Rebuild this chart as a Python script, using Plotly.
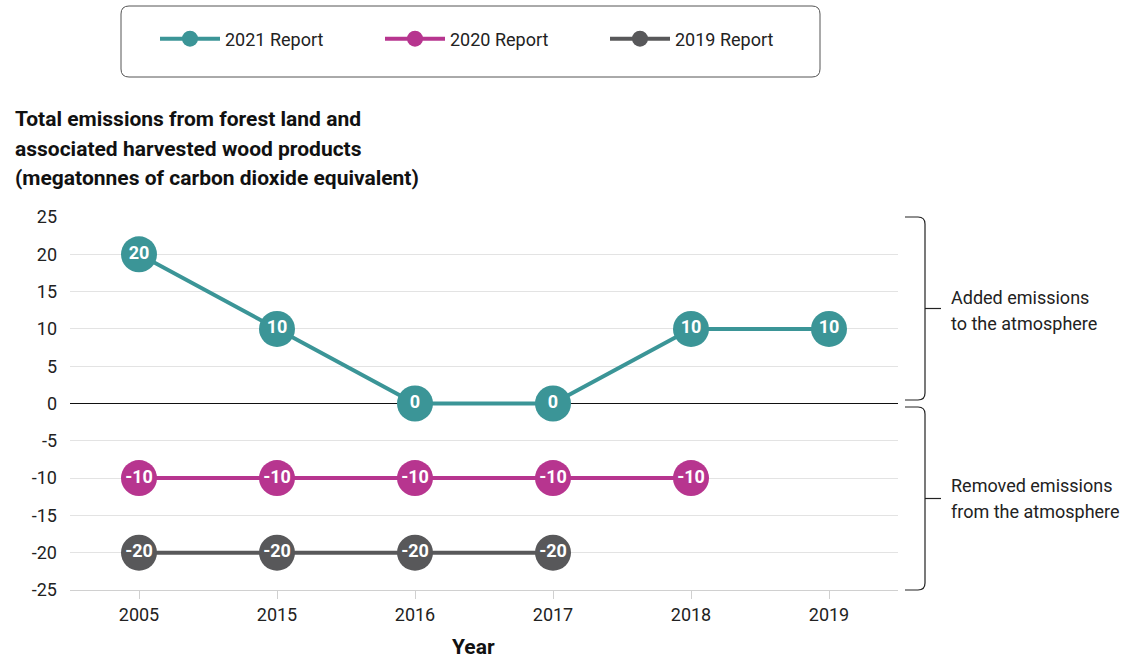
import plotly.graph_objects as go

years = ["2005", "2015", "2016", "2017", "2018", "2019"]
report_2021 = [20, 10, 0, 0, 10, 10]
report_2020 = [-10, -10, -10, -10, -10]
report_2019 = [-20, -20, -20, -20]
series_names = ["2021 Report", "2020 Report", "2019 Report"]
y_ticks = [-25, -20, -15, -10, -5, 0, 5, 10, 15, 20, 25]
y_tick_labels = [str(v) for v in y_ticks]
title_lines = ["Total emissions from forest land and",
               "associated harvested wood products",
               "(megatonnes of carbon dioxide equivalent)"]
added_lines = ["Added emissions", "to the atmosphere"]
removed_lines = ["Removed emissions", "from the atmosphere"]
x_title = "Year"

colors = ["#3b9597", "#b7358f", "#58585a"]
FONT = "Roboto"

W, H = 1129, 658
L, R, T, B = 70, 898, 217, 590


def px(x):
    return (x - L) / (R - L)


def py(y):
    return (B - y) / (B - T)


fig = go.Figure()
for name, vals, col in zip(series_names, [report_2021, report_2020, report_2019], colors):
    xs = years[:len(vals)]
    fig.add_trace(go.Scatter(
        x=xs, y=vals, name=name, mode="lines+markers",
        line=dict(color=col, width=4),
        marker=dict(color=col, size=36),
        cliponaxis=False,
    ))
for vals in [report_2021, report_2020, report_2019]:
    xs = years[:len(vals)]
    fig.add_trace(go.Scatter(
        x=xs, y=vals, mode="text", text=[str(v) for v in vals],
        textposition="middle center", showlegend=False, hoverinfo="skip",
        textfont=dict(family=FONT, size=18, color="white", weight="bold"),
        cliponaxis=False,
    ))

shapes = []
# legend box (rounded)
x0, x1, y0, y1 = 121, 820, 6, 77
r = 8
path = (f"M {px(x0 + r)} {py(y0)} L {px(x1 - r)} {py(y0)} Q {px(x1)} {py(y0)} {px(x1)} {py(y0 + r)} "
        f"L {px(x1)} {py(y1 - r)} Q {px(x1)} {py(y1)} {px(x1 - r)} {py(y1)} "
        f"L {px(x0 + r)} {py(y1)} Q {px(x0)} {py(y1)} {px(x0)} {py(y1 - r)} "
        f"L {px(x0)} {py(y0 + r)} Q {px(x0)} {py(y0)} {px(x0 + r)} {py(y0)} Z")
shapes.append(dict(type="path", xref="paper", yref="paper", path=path,
                   line=dict(color="#555555", width=1), fillcolor="rgba(0,0,0,0)"))


def bracket(ya, yb):
    xa, xb, rr = 905, 925, 7
    p = (f"M {px(xa)} {py(ya)} L {px(xb - rr)} {py(ya)} Q {px(xb)} {py(ya)} {px(xb)} {py(ya + rr)} "
         f"L {px(xb)} {py(yb - rr)} Q {px(xb)} {py(yb)} {px(xb - rr)} {py(yb)} L {px(xa)} {py(yb)}")
    mid = (ya + yb) / 2
    p2 = f"M {px(xb)} {py(mid)} L {px(941)} {py(mid)}"
    return [dict(type="path", xref="paper", yref="paper", path=p, line=dict(color="#222222", width=1.2)),
            dict(type="path", xref="paper", yref="paper", path=p2, line=dict(color="#222222", width=1.2))]


shapes += bracket(217, 400)
shapes += bracket(407, 590)

annotations = []
for i, line in enumerate(title_lines):
    annotations.append(dict(
        text=f"<b>{line}</b>", xref="paper", yref="paper", x=px(13), y=py(119 + 29.5 * i),
        xanchor="left", yanchor="middle", align="left", showarrow=False,
        font=dict(family=FONT, size=21, color="#111111")))
for lines, y_start in [(added_lines, 297), (removed_lines, 485)]:
    for i, line in enumerate(lines):
        annotations.append(dict(
            text=line, xref="paper", yref="paper", x=px(949), y=py(y_start + 26 * i),
            xanchor="left", yanchor="middle", align="left", showarrow=False,
            font=dict(family=FONT, size=18, color="#222222")))
annotations.append(dict(
    text=f"<b>{x_title}</b>", xref="paper", yref="paper", x=px(473), y=py(647),
    xanchor="center", yanchor="middle", showarrow=False,
    font=dict(family=FONT, size=21, color="#111111")))

fig.update_layout(
    width=W, height=H,
    margin=dict(l=L, r=W - R, t=T, b=H - B, autoexpand=False),
    paper_bgcolor="white", plot_bgcolor="white",
    font=dict(family=FONT, size=17, color="#222222"),
    showlegend=True,
    legend=dict(orientation="h", xref="paper", yref="paper", x=px(155), y=py(39),
                xanchor="left", yanchor="middle", entrywidth=150, itemwidth=60,
                font=dict(family=FONT, size=18, color="#222222"), bgcolor="rgba(0,0,0,0)"),
    xaxis=dict(type="category", categoryorder="array", categoryarray=years,
               range=[-0.5, len(years) - 0.5], showgrid=False, zeroline=False,
               showline=True, linecolor="#d0d0d0", linewidth=1, automargin=False,
               ticks="outside", ticklen=8, tickcolor="#d0d0d0",
               tickfont=dict(family=FONT, size=18, color="#222222")),
    yaxis=dict(range=[-25, 25], tickvals=y_ticks, ticktext=y_tick_labels, automargin=False,
               showgrid=True, gridcolor="#e3e3e3", gridwidth=1,
               zeroline=True, zerolinecolor="#111111", zerolinewidth=1,
               showline=False, ticks="", ticklabelstandoff=12,
               tickfont=dict(family=FONT, size=18, color="#222222")),
    shapes=shapes, annotations=annotations,
)

fig.write_html("out.html", config={"displayModeBar": False},
               post_script="document.body.style.margin='0';")
